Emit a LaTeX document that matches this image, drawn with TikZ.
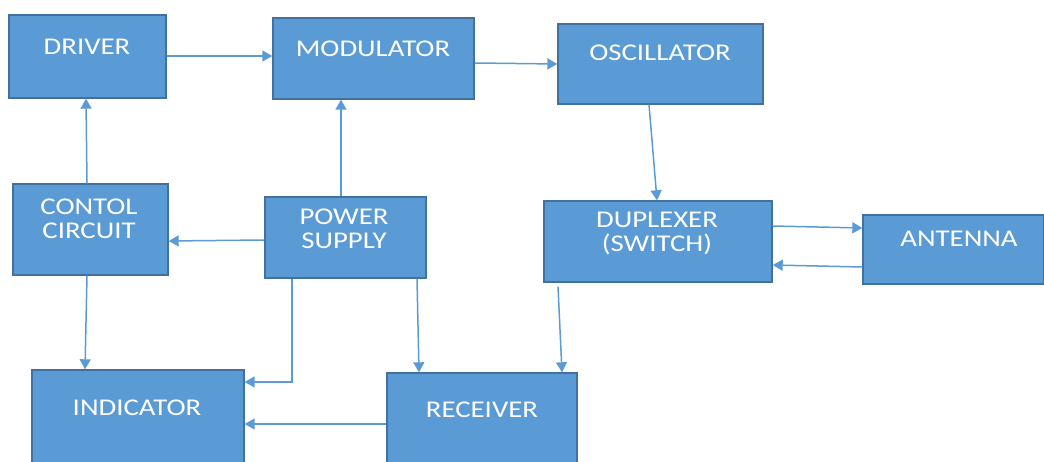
\documentclass[tikz,border=0pt]{standalone}
\usepackage{fontspec}
\usetikzlibrary{arrows.meta}
\newfontfamily\boxfont[FakeStretch=1.2]{Carlito}
\definecolor{boxfill}{HTML}{5B9BD5}
\definecolor{boxline}{HTML}{41719C}
\definecolor{wire}{HTML}{5B9BD5}
\begin{document}
\begin{tikzpicture}[x=1pt,y=-1pt,
  blk/.style={draw=boxline,fill=boxfill,line width=1.4pt,inner sep=0pt,anchor=center},
  lbl/.style={text=white,inner sep=0pt,align=center,font=\boxfont\fontsize{24}{24.5}\selectfont},
  wireto/.style={draw=wire,line width=1.5pt,-{Triangle[length=10pt,width=11pt]}}]
\useasboundingbox (0,0) rectangle (1044,462);

% blocks
\node[blk,minimum width=157pt,minimum height=83pt] (drv) at (87.5,56.5) {};
\node[blk,minimum width=201pt,minimum height=81pt] (mod) at (373.5,58.5) {};
\node[blk,minimum width=205pt,minimum height=80pt] (osc) at (660.5,64) {};
\node[blk,minimum width=155pt,minimum height=91pt] (ctl) at (90.5,229.5) {};
\node[blk,minimum width=161pt,minimum height=81pt] (pwr) at (345.5,237.5) {};
\node[blk,minimum width=228pt,minimum height=81pt] (dup) at (658,241.5) {};
\node[blk,minimum width=181pt,minimum height=69pt] (ant) at (953.5,249.5) {};
\node[blk,minimum width=212pt,minimum height=104pt] (ind) at (138,422) {};
\node[blk,minimum width=190pt,minimum height=101pt] (rcv) at (482,423.5) {};

% block labels
\node[lbl] (drvT) at (87,47) {DRIVER};
\node[lbl] (modT) at (373,49) {MODULATOR};
\node[lbl] (oscT) at (660,53) {OSCILLATOR};
\node[lbl] (ctlT) at (89,219) {CONTOL\\CIRCUIT};
\node[lbl] (pwrT) at (344,229) {POWER\\SUPPLY};
\node[lbl] (dupT) at (657,233.5) {DUPLEXER\\(SWITCH)};
\node[lbl] (antT) at (959,239) {ANTENNA};
\node[lbl] (indT) at (137,408) {INDICATOR};
\node[lbl] (rcvT) at (482,410) {RECEIVER};

% signal paths
\draw[wireto] (drv.east |- 0,56) -- (mod.west |- 0,56);
\draw[wireto] (mod.east |- 0,63) -- (osc.west |- 0,64);
\draw[wireto] (649,0 |- osc.south) -- (657,0 |- dup.north);
\draw[wireto] (dup.east |- 0,226) -- (ant.west |- 0,228);
\draw[wireto] (ant.west |- 0,267) -- (dup.east |- 0,265);
\draw[wireto] (87,0 |- ctl.north) -- (86,0 |- drv.south);
\draw[wireto] (341,0 |- pwr.north) -- (341,0 |- mod.south);
\draw[wireto] (pwr.west |- 0,240) -- (ctl.east |- 0,241);
\draw[wireto] (87,0 |- ctl.south) -- (85,0 |- ind.north);
\draw[wireto] (292,0 |- pwr.south) |- (ind.east |- 0,382);
\draw[wireto] (417,0 |- pwr.south) -- (419,0 |- rcv.north);
\draw[wireto] ([yshift=-4pt]558,0 |- dup.south) -- (562,0 |- rcv.north);
\draw[wireto] (rcv.west |- 0,424) -- (ind.east |- 0,424);
\end{tikzpicture}
\end{document}
